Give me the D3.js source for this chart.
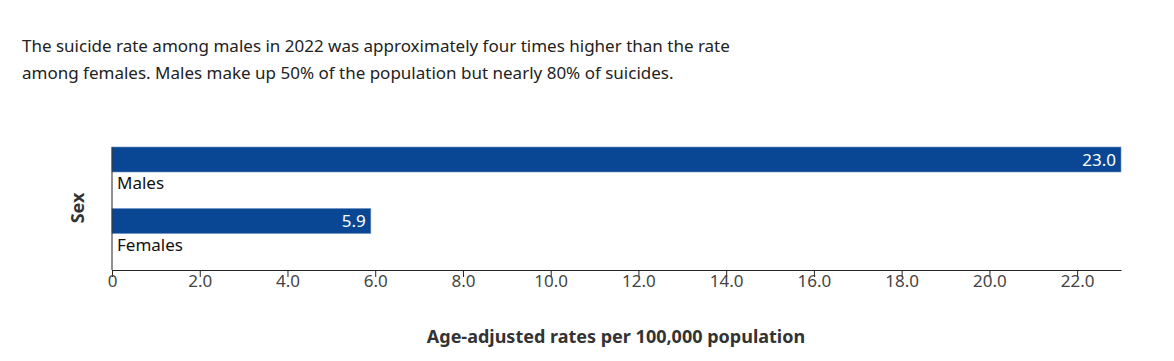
<!DOCTYPE html>
<html>
<head>
<meta charset="utf-8">
<script src="https://cdn.jsdelivr.net/npm/d3@7"></script>
<style>
  body { margin: 0; background: #fff; font-family: "Noto Sans", sans-serif; }
  .intro { position: absolute; left: 22px; top: 32px; width: 740px; font-size: 17px; line-height: 27px; color: #222; margin: 0; }
  svg { position: absolute; left: 0; top: 0; }
</style>
</head>
<body>
<p class="intro">The suicide rate among males in 2022 was approximately four times higher than the rate among females. Males make up 50% of the population but nearly 80% of suicides.</p>
<svg id="chart" width="1174" height="361"></svg>
<script>
var categories = ["Males", "Females"];
var rates = [23.0, 5.9];
var tickValues = [0, 2, 4, 6, 8, 10, 12, 14, 16, 18, 20, 22];

var svg = d3.select("#chart");
var margin = { left: 112, right: 53, top: 147, bottom: 91 };
var width = 1174 - margin.left - margin.right,
    height = 361 - margin.top - margin.bottom;

var g = svg.append("g")
    .attr("transform", "translate(" + margin.left + "," + margin.top + ")");

var x = d3.scaleLinear().domain([0, 23]).range([0, width]);
var y = d3.scaleBand().domain(categories).range([0, height]).paddingInner(0);

var data = categories.map(function (c, i) { return { name: c, value: rates[i] }; });

var barH = 25;

g.selectAll("rect.bar")
    .data(data)
    .enter()
    .append("rect")
    .attr("class", "bar")
    .attr("x", 0)
    .attr("y", function (d) { return y(d.name); })
    .attr("width", function (d) { return x(d.value); })
    .attr("height", barH)
    .attr("fill", "#094794")
    .attr("stroke", "#6d8fc0")
    .attr("stroke-width", 0.6);

g.selectAll("text.val")
    .data(data)
    .enter()
    .append("text")
    .attr("class", "val")
    .attr("x", function (d) { return x(d.value) - 5; })
    .attr("y", function (d) { return y(d.name) + barH / 2 + 6; })
    .attr("text-anchor", "end")
    .attr("fill", "#fff")
    .style("font-size", "17px")
    .text(function (d) { return d.value.toFixed(1); });

g.selectAll("text.cat")
    .data(data)
    .enter()
    .append("text")
    .attr("class", "cat")
    .attr("x", 5)
    .attr("y", function (d) { return y(d.name) + barH + 17; })
    .attr("fill", "#111")
    .style("font-size", "17px")
    .text(function (d) { return d.name; });

// y axis line
g.append("line")
    .attr("x1", 0).attr("x2", 0)
    .attr("y1", 0).attr("y2", height)
    .attr("stroke", "#222");

var xAxis = g.append("g")
    .attr("transform", "translate(0," + height + ")")
    .call(d3.axisBottom(x)
        .tickValues(tickValues)
        .tickSizeInner(7)
        .tickSizeOuter(0)
        .tickPadding(-2)
        .tickFormat(function (d) { return d === 0 ? "0" : d3.format(".1f")(d); }));

xAxis.select(".domain").attr("stroke", "#222");
xAxis.selectAll(".tick line").attr("stroke", "#222");
xAxis.selectAll(".tick text")
    .attr("fill", "#444")
    .style("font-family", "'Noto Sans', sans-serif")
    .style("font-size", "17px");

svg.append("text")
    .attr("x", 616)
    .attr("y", 343)
    .attr("text-anchor", "middle")
    .attr("fill", "#333")
    .style("font-size", "18px")
    .style("font-weight", "bold")
    .text("Age-adjusted rates per 100,000 population");

svg.append("text")
    .attr("transform", "translate(84,208) rotate(-90)")
    .attr("text-anchor", "middle")
    .attr("fill", "#333")
    .style("font-size", "18px")
    .style("font-weight", "bold")
    .text("Sex");
</script>
</body>
</html>
